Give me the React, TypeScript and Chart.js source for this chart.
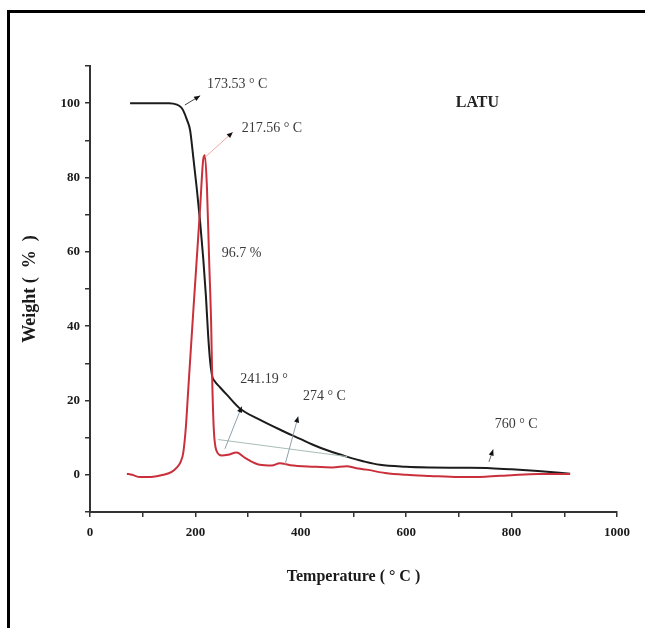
import React, { useEffect, useRef } from "react";
import { Chart, registerables } from "chart.js";

Chart.register(...registerables);

// TGA curve (black): temperature (°C) and weight (%)
const tgaTemp = [76, 120, 150, 165, 172, 177, 184, 190, 196, 203, 209, 215, 220, 224, 228, 232, 236, 247, 260, 285, 320, 360, 400, 423, 450, 487, 520, 550, 600, 645, 700, 760, 800, 850, 911];
const tgaWeight = [100, 100, 100, 99.6, 99, 98, 95.5, 92.7, 85.4, 76.5, 68, 58, 48, 38, 30.5, 26.5, 25.3, 23.5, 21.5, 17.8, 15, 12.2, 9.6, 8.1, 6.6, 4.9, 3.6, 2.7, 2.2, 2.0, 1.9, 1.8, 1.5, 1.0, 0.3];

// DTG curve (red), drawn on the same scale
const dtgTemp = [70, 80, 95, 120, 139, 155, 165, 172, 177, 182, 186, 191, 196, 203, 209, 215, 218, 222, 226, 230, 232, 235, 240, 250, 262, 278, 295, 322, 345, 360, 380, 423, 460, 487, 505, 525, 560, 600, 645, 700, 750, 800, 850, 911];
const dtgSignal = [0.3, 0, -0.6, -0.5, 0, 0.8, 2, 3.5, 6, 13, 22, 33, 44, 59, 72, 85, 86, 77, 58, 40, 25, 12, 6.5, 5.2, 5.4, 6, 4.5, 2.7, 2.5, 3.1, 2.6, 2.2, 2.0, 2.3, 1.8, 1.4, 0.5, 0, -0.3, -0.6, -0.5, -0.1, 0.2, 0.2];

const xTickLabels = ["0", "200", "400", "600", "800", "1000"];
const yTickLabels = ["0", "20", "40", "60", "80", "100"];

const xTitle = "Temperature ( ° C )";
const yTitle = "Weight (  %  )";

// annotation texts, anchored in data coordinates [temperature, weight]
const noteTexts = ["173.53 ° C", "217.56 ° C", "96.7 %", "LATU", "241.19 °", "274 ° C", "760 ° C"];
const noteAnchors: [number, number][] = [[222, 105], [288, 93.2], [250, 59.5], [735, 100], [285, 25.7], [404, 21], [768, 13.5]];

// arrows [fromT, fromW, toT, toW]
const arrowLines: [number, number, number, number][] = [
  [180, 99.5, 209, 102],
  [218, 85.4, 271, 92.2],
  [256, 7, 288, 18.4],
  [370, 2.7, 395, 15.7],
  [757, 3.5, 765, 6.8],
];
const arrowColors = ["#444", "#f4a7a7", "#8fa0ae", "#8fa0ae", "#666"];
const tangentLine: [number, number, number, number] = [243, 9.5, 488, 4.9];

const SERIF = "'Liberation Serif', 'Times New Roman', serif";

const annotationPlugin = {
  id: "tgaAnnotations",
  afterDatasetsDraw(chart: any) {
    const { ctx, scales } = chart;
    const xs = scales.x;
    const ys = scales.y;
    const px = (t: number) => xs.getPixelForValue(t);
    const py = (w: number) => ys.getPixelForValue(w);
    ctx.save();
    // tangent line
    ctx.strokeStyle = "#a9bcb8";
    ctx.lineWidth = 1;
    ctx.beginPath();
    ctx.moveTo(px(tangentLine[0]), py(tangentLine[1]));
    ctx.lineTo(px(tangentLine[2]), py(tangentLine[3]));
    ctx.stroke();
    // arrows
    arrowLines.forEach((a, i) => {
      const x1 = px(a[0]), y1 = py(a[1]), x2 = px(a[2]), y2 = py(a[3]);
      ctx.strokeStyle = arrowColors[i];
      ctx.lineWidth = 1;
      ctx.beginPath();
      ctx.moveTo(x1, y1);
      ctx.lineTo(x2, y2);
      ctx.stroke();
      const ang = Math.atan2(y2 - y1, x2 - x1);
      const L = 6, H = 2.6;
      ctx.fillStyle = "#111";
      ctx.beginPath();
      ctx.moveTo(x2, y2);
      ctx.lineTo(x2 - L * Math.cos(ang) + H * Math.sin(ang), y2 - L * Math.sin(ang) - H * Math.cos(ang));
      ctx.lineTo(x2 - L * Math.cos(ang) - H * Math.sin(ang), y2 - L * Math.sin(ang) + H * Math.cos(ang));
      ctx.closePath();
      ctx.fill();
    });
    // texts
    ctx.textBaseline = "middle";
    noteTexts.forEach((t, i) => {
      const [tx, tw] = noteAnchors[i];
      const isTitle = t === "LATU";
      ctx.font = isTitle ? `bold 16px ${SERIF}` : `14px ${SERIF}`;
      ctx.fillStyle = isTitle ? "#222" : "#3a3a3a";
      ctx.textAlign = isTitle ? "center" : "left";
      ctx.fillText(t, px(tx), py(tw));
    });
    // axis titles
    const area = chart.chartArea;
    ctx.fillStyle = "#1a1a1a";
    ctx.font = `bold 16px ${SERIF}`;
    ctx.textAlign = "center";
    ctx.textBaseline = "middle";
    ctx.fillText(xTitle, (area.left + area.right) / 2, 577);
    ctx.save();
    ctx.translate(30, (area.top + area.bottom) / 2);
    ctx.rotate(-Math.PI / 2);
    ctx.font = `bold 18px ${SERIF}`;
    ctx.fillText(yTitle, 0, 0);
    ctx.restore();
    ctx.restore();
  },
};

export default function App() {
  const ref = useRef<HTMLCanvasElement | null>(null);
  useEffect(() => {
    if (!ref.current) return;
    const tickFont = { family: SERIF, size: 13, weight: "bold" as const };
    const chart = new Chart(ref.current, {
      type: "line",
      data: {
        datasets: [
          {
            label: "DTG",
            data: dtgTemp.map((t, i) => ({ x: t, y: dtgSignal[i] })),
            borderColor: "#c9303b",
            borderWidth: 2,
            pointRadius: 0,
            cubicInterpolationMode: "monotone",
            fill: false,
          },
          {
            label: "TGA",
            data: tgaTemp.map((t, i) => ({ x: t, y: tgaWeight[i] })),
            borderColor: "#1c1c1c",
            borderWidth: 2,
            pointRadius: 0,
            cubicInterpolationMode: "monotone",
            fill: false,
          },
        ],
      },
      options: {
        responsive: false,
        animation: false,
        layout: { padding: { left: 0, top: 66, right: 28, bottom: 0 } },
        plugins: { legend: { display: false }, tooltip: { enabled: false }, title: { display: false } },
        scales: {
          x: {
            type: "linear",
            min: 0,
            max: 1000,
            ticks: {
              stepSize: 100,
              autoSkip: false,
              maxRotation: 0,
              padding: 8,
              font: tickFont,
              color: "#1a1a1a",
              callback: (v: any) => (xTickLabels.includes(String(v)) ? String(v) : ""),
            },
            grid: { drawOnChartArea: false, drawTicks: true, tickLength: 5, tickColor: "#333", lineWidth: 1.5 },
            border: { display: true, color: "#333", width: 2 },
            afterFit: (s: any) => {
              s.height = 116;
              s.paddingLeft = 0;
              s.paddingRight = 0;
            },
          },
          y: {
            type: "linear",
            min: -10,
            max: 110,
            ticks: {
              stepSize: 10,
              autoSkip: false,
              padding: 5,
              font: tickFont,
              color: "#1a1a1a",
              callback: (v: any) => (yTickLabels.includes(String(v)) ? String(v) : ""),
            },
            grid: { drawOnChartArea: false, drawTicks: true, tickLength: 5, tickColor: "#333", lineWidth: 1.5 },
            border: { display: true, color: "#333", width: 2 },
            afterFit: (s: any) => {
              s.width = 90;
              s.paddingTop = 0;
              s.paddingBottom = 0;
            },
          },
        },
      },
      plugins: [annotationPlugin],
    });
    return () => chart.destroy();
  }, []);

  return (
    <div style={{ position: "absolute", left: 0, top: 0, width: 645, height: 628, background: "#fff" }}>
      <canvas ref={ref} width={645} height={628} style={{ position: "absolute", left: 0, top: 0 }} />
      <div
        style={{
          position: "absolute",
          left: 7,
          top: 10,
          width: 645,
          height: 640,
          borderTop: "3px solid #000",
          borderLeft: "3px solid #000",
          boxSizing: "border-box",
          pointerEvents: "none",
        }}
      />
    </div>
  );
}
